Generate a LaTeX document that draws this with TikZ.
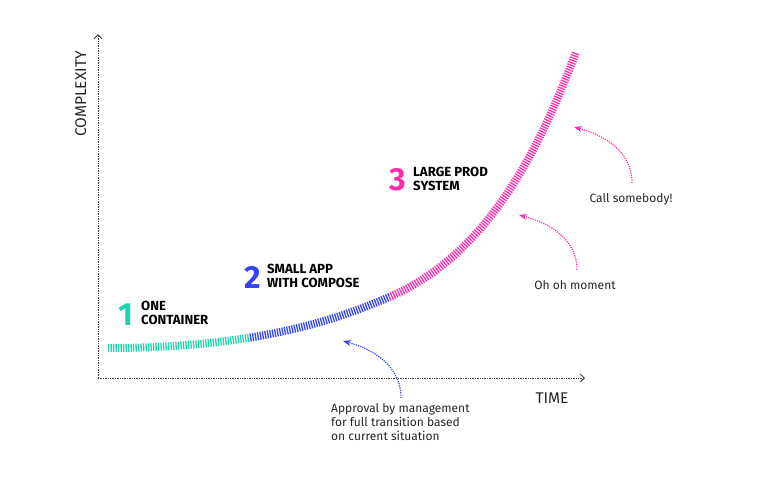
\documentclass[tikz,border=0pt]{standalone}
\usepackage{fontspec}
\setmainfont{Fira Sans}
\usetikzlibrary{arrows.meta}
\definecolor{cteal}{RGB}{34,211,176}
\definecolor{cblue}{RGB}{52,68,240}
\definecolor{cpink}{RGB}{255,45,170}
\definecolor{caxis}{RGB}{60,60,60}
\tikzset{
  axisline/.style={caxis, line width=0.9pt, dash pattern=on 1.4pt off 1pt, -{Straight Barb[length=4pt,width=8pt,line width=0.9pt]}},
  curveline/.style={line width=8pt, dash pattern=on 1.3pt off 1.2pt},
  note/.style={dash pattern=on 1.2pt off 1.1pt, line width=1.2pt, -{Stealth[length=8pt,width=6pt]}},
  bignum/.style={font=\bfseries\fontsize{32}{32}\selectfont, inner sep=0pt},
  caplabel/.style={font=\bfseries\fontsize{13.2}{14.6}\selectfont, align=left, anchor=west, inner sep=0pt},
  plain/.style={font=\fontsize{12}{14}\selectfont, inner sep=0pt, text=black!85},
  axlabel/.style={font=\fontsize{15.5}{16}\selectfont, inner sep=0pt, text=black!85}
}
\begin{document}
\begin{tikzpicture}[x=1pt,y=-1pt]
\useasboundingbox (0,0) rectangle (768,480);
% axes
\coordinate (origin) at (98,378);
\coordinate (ytop) at (98,34);
\coordinate (xend) at (585,378);
\draw[axisline] (origin) -- (ytop);
\draw[axisline] (origin) -- (xend);
\node[axlabel, rotate=90, anchor=base] (ylab) at (86,94) {COMPLEXITY};
\node[axlabel, anchor=base] (xlab) at (552,403) {TIME};
% curve
\coordinate (c0) at (108,348);
\coordinate (c1) at (387,298);
\coordinate (c2) at (576,52);
\def\curvepath{(c0) .. controls (260,348) and (340,318) .. (c1) .. controls (482,258) and (535,162) .. (c2)}
\begin{scope}
\clip (100,300) rectangle (249,360);
\draw[curveline, cteal] \curvepath;
\end{scope}
\begin{scope}
\clip (249,280) rectangle (389,360);
\draw[curveline, cblue] \curvepath;
\end{scope}
\begin{scope}
\clip (389,30) rectangle (600,320);
\draw[curveline, cpink] \curvepath;
\end{scope}
% stage labels
\node[bignum, text=cteal] (n1) at (126,315) {1};
\node[caplabel] (l1) at (141,313) {ONE\\CONTAINER};
\node[bignum, text=cblue] (n2) at (253,277) {2};
\node[caplabel] (l2) at (267,276) {SMALL APP\\WITH COMPOSE};
\node[bignum, text=cpink] (n3) at (398,180) {3};
\node[caplabel] (l3) at (413,179) {LARGE PROD\\SYSTEM};
% annotations
\coordinate (a1s) at (401,398);
\coordinate (a1e) at (343,341);
\draw[note, cblue] (a1s) to[out=90, in=-15] (a1e);
\node[plain, align=left, anchor=north west] (t1) at (331,403) {Approval by management\\for full transition based\\on current situation};
\coordinate (a2s) at (577,270);
\coordinate (a2e) at (519,215);
\draw[note, cpink] (a2s) to[out=90, in=-15] (a2e);
\node[plain, anchor=base] (t2) at (575,289) {Oh oh moment};
\coordinate (a3s) at (632,183);
\coordinate (a3e) at (574,127);
\draw[note, cpink] (a3s) to[out=90, in=-15] (a3e);
\node[plain, anchor=base] (t3) at (631,202) {Call somebody!};
\end{tikzpicture}
\end{document}
